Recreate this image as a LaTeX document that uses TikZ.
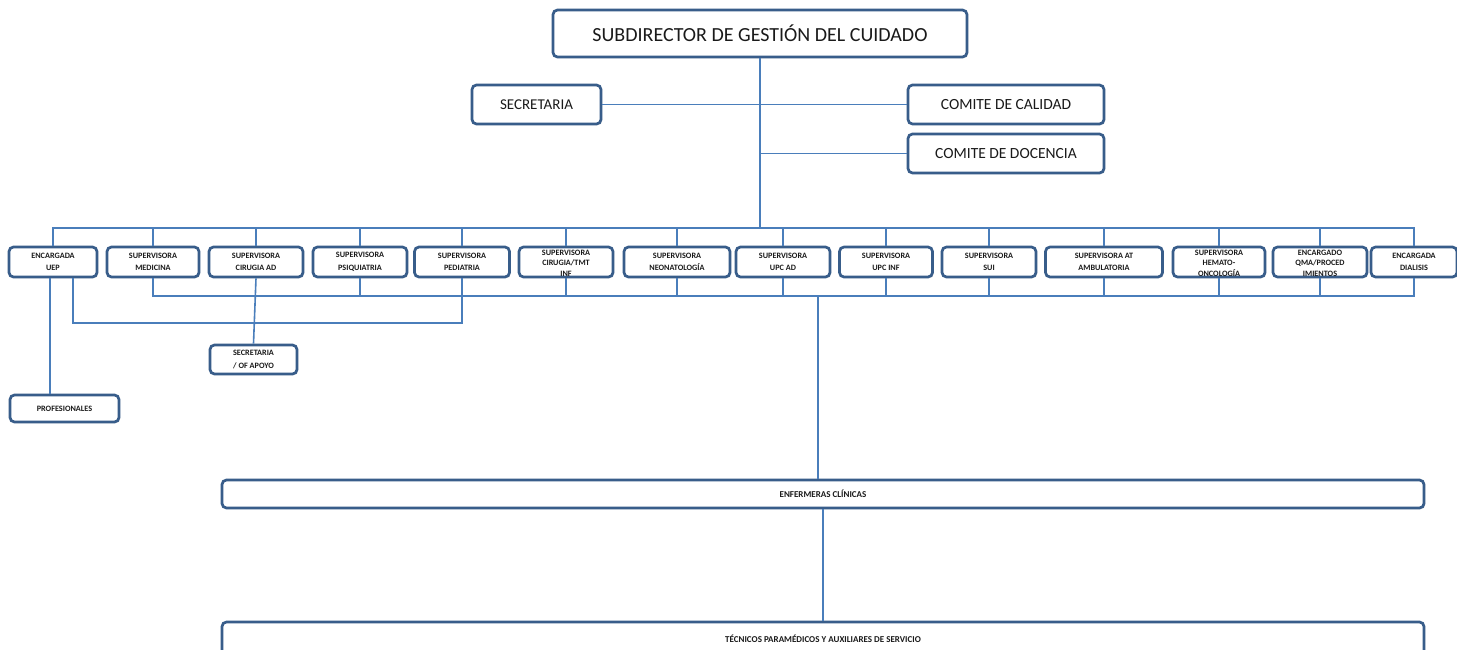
\documentclass[tikz,border=0pt]{standalone}
\usepackage{fontspec}
\setmainfont{Carlito}
\usetikzlibrary{shadows}
\definecolor{boxc}{HTML}{385D8A}
\definecolor{linec}{HTML}{4A7EBB}
\definecolor{txtc}{HTML}{1A1A1A}
\tikzset{
  box/.style={draw=boxc, line width=2.7pt, rounded corners=4.5pt, fill=white, inner sep=0pt, align=center, text=txtc,
    drop shadow={shadow xshift=1.2pt, shadow yshift=-1.2pt, opacity=0.25}},
  rowbox/.style={box, minimum height=30pt},
  rowtxt/.style={inner sep=0pt, align=center, text=txtc, font=\bfseries\fontsize{8.2}{12.5}\selectfont},
  rowtxtc/.style={rowtxt, font=\bfseries\fontsize{8.2}{10.5}\selectfont},
  conn/.style={draw=linec, line width=1.6pt},
}
\newcommand\rbox[4]{\node[rowbox, minimum width=#3pt] (#1) at (#2,262) {};
  \node[rowtxt] (#1t) at (#1) {#4};}
\newcommand\rboxc[4]{\node[rowbox, minimum width=#3pt] (#1) at (#2,262) {};
  \node[rowtxtc] (#1t) at ([yshift=-1pt]#1) {#4};}
\begin{document}
\begin{tikzpicture}[x=1pt, y=-1pt]
\useasboundingbox (0,0) rectangle (1457,650);
\fill[white] (0,0) rectangle (1457,650);
\coordinate (bus) at (760,228);
\coordinate (b1) at (0,296);
\coordinate (b2) at (0,323);

% top level
\node[box, minimum width=414pt, minimum height=47pt, font=\fontsize{20}{23}\selectfont] (sub) at (760,33.5) {SUBDIRECTOR DE GESTIÓN DEL CUIDADO};
\node[box, minimum width=129pt, minimum height=39pt, font=\fontsize{15}{17}\selectfont] (sec) at (536.5,104.5) {SECRETARIA};
\node[box, minimum width=196pt, minimum height=39pt, font=\fontsize{15.5}{17}\selectfont] (cal) at (1006,104.5) {COMITE DE CALIDAD};
\node[box, minimum width=196pt, minimum height=39pt, font=\fontsize{15.5}{17}\selectfont] (doc) at (1006,153.5) {COMITE DE DOCENCIA};

% row of supervisors
\rbox{u1}{53}{88}{ENCARGADA\\UEP}
\rbox{u2}{153}{92}{SUPERVISORA\\MEDICINA}
\rbox{u3}{256}{94}{SUPERVISORA\\CIRUGIA AD}
\rbox{u4}{360}{94}{SUPERVISORA\\PSIQUIATRIA}
\rbox{u5}{462}{95}{SUPERVISORA\\PEDIATRIA}
\rboxc{u6}{566}{94}{SUPERVISORA\\CIRUGIA/TMT\\INF}
\rbox{u7}{677}{106}{SUPERVISORA\\NEONATOLOGÍA}
\rbox{u8}{783}{94}{SUPERVISORA\\UPC AD}
\rbox{u9}{886}{93}{SUPERVISORA\\UPC INF}
\rbox{u10}{989}{94}{SUPERVISORA\\SUI}
\rbox{u11}{1104}{117}{SUPERVISORA AT\\AMBULATORIA}
\rboxc{u12}{1219}{92}{SUPERVISORA\\HEMATO-\\ONCOLOGÍA}
\rboxc{u13}{1320}{94}{ENCARGADO\\QMA/PROCED\\IMIENTOS}
\rbox{u14}{1414}{86}{ENCARGADA\\DIALISIS}

% lower boxes
\node[box, minimum width=87pt, minimum height=29pt, font=\bfseries\fontsize{8.2}{12.5}\selectfont] (sa) at (253.5,359.5) {SECRETARIA\\/ OF APOYO};
\node[box, minimum width=109pt, minimum height=27pt, font=\bfseries\fontsize{8.2}{12.5}\selectfont] (prof) at (64.5,408.5) {PROFESIONALES};
\node[box, minimum width=1202pt, minimum height=28pt, font=\bfseries\fontsize{9}{12}\selectfont] (enf) at (823,494) {ENFERMERAS CLÍNICAS};
\node[box, minimum width=1202pt, minimum height=34pt, font=\bfseries\fontsize{9}{12}\selectfont] (tec) at (823,639) {TÉCNICOS PARAMÉDICOS Y AUXILIARES DE SERVICIO};

% connectors: top
\draw[conn] (sub.south) -- (sub.south |- bus);
\draw[conn] (sec.east) -- (cal.west);
\draw[conn] (doc.west) -- (doc.west -| sub.south);
\draw[conn] (u1.north) -- (u1.north |- bus) -- (u14.north |- bus) -- (u14.north);
\foreach \n in {u2,u3,u4,u5,u6,u7,u8,u9,u10,u11,u12,u13}
  \draw[conn] (\n.north) -- (\n.north |- bus);

% connectors: below row
\draw[conn] (u2.south) |- (u14.south |- b1) -- (u14.south);
\foreach \n in {u4,u6,u7,u8,u9,u10,u11,u12,u13}
  \draw[conn] (\n.south) -- (\n.south |- b1);
\draw[conn] ([xshift=20pt]u1.south) |- (u5.south |- b2) -- (u5.south);
\draw[conn] (u3.south) -- (sa.north);
\draw[conn] ([xshift=-3pt]u1.south) -- ([xshift=-3pt]u1.south |- prof.north);
\draw[conn] ([xshift=-5pt]enf.north |- b1) -- ([xshift=-5pt]enf.north);
\draw[conn] (enf.south) -- (tec.north);
\end{tikzpicture}
\end{document}
